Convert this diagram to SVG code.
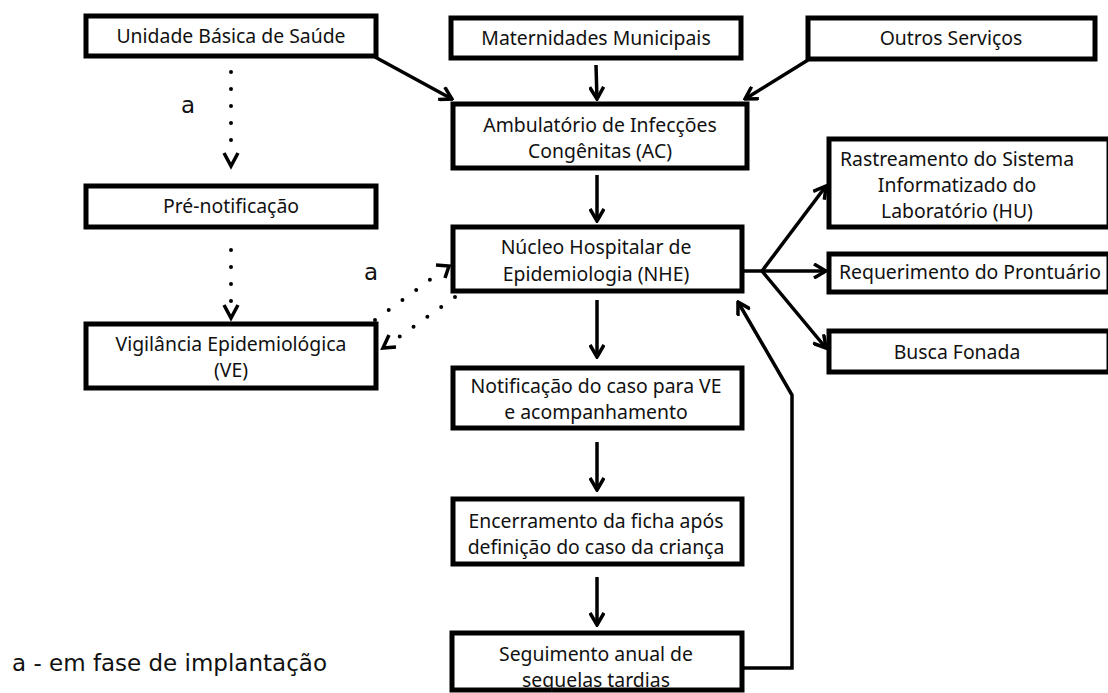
<svg xmlns="http://www.w3.org/2000/svg" width="1108" height="693" viewBox="0 0 1108 693">
<defs>
<style>
.box{fill:#fff;stroke:#000;stroke-width:5}
.t{font-family:"Noto Sans","DejaVu Sans",sans-serif;font-size:19.4px;fill:#111;text-anchor:middle}
.lg{font-family:"DejaVu Sans",sans-serif;font-size:23px;fill:#111}
.ln{fill:none;stroke:#000;stroke-width:3.5}
.dot{fill:none;stroke:#000;stroke-width:4;stroke-linecap:round;stroke-dasharray:0 17}
</style>
<marker id="ah" markerUnits="userSpaceOnUse" viewBox="0 0 16 16" refX="14" refY="8" markerWidth="16" markerHeight="16" orient="auto">
<path d="M2,1 L14,8 L2,15" fill="none" stroke="#000" stroke-width="3.5"/>
</marker>
</defs>
<rect width="1108" height="693" fill="#fff"/>
<g id="connectors">
<line class="ln" x1="375" y1="57" x2="452" y2="99" marker-end="url(#ah)"/>
<line class="ln" x1="596" y1="65" x2="597" y2="99" marker-end="url(#ah)"/>
<line class="ln" x1="808" y1="60" x2="745" y2="99" marker-end="url(#ah)"/>
<line class="ln" x1="597" y1="175" x2="597" y2="221" marker-end="url(#ah)"/>
<line class="ln" x1="742" y1="271" x2="826" y2="271" marker-end="url(#ah)"/>
<line class="ln" x1="762" y1="271" x2="826" y2="186" marker-end="url(#ah)"/>
<line class="ln" x1="762" y1="271" x2="826" y2="348" marker-end="url(#ah)"/>
<line class="ln" x1="597" y1="300" x2="597" y2="357" marker-end="url(#ah)"/>
<line class="ln" x1="597" y1="442" x2="597" y2="490" marker-end="url(#ah)"/>
<line class="ln" x1="597" y1="577" x2="597" y2="625" marker-end="url(#ah)"/>
<polyline class="ln" points="744,668 792,668 792,395 738,302" marker-end="url(#ah)"/>
<line class="dot" x1="231" y1="72" x2="231" y2="155"/>
<path class="ln" d="M224,153 L231,166 L238,153" stroke-width="3"/>
<line class="dot" x1="231" y1="250" x2="231" y2="305"/>
<path class="ln" d="M224,305 L231,318 L238,305" stroke-width="3"/>
<line class="dot" x1="375" y1="320" x2="442" y2="271"/>
<path class="ln" d="M436,265 L449,266 L445,278" stroke-width="3"/>
<line class="dot" x1="455" y1="297" x2="395" y2="340"/>
<path class="ln" d="M389,335 L383,348 L396,347" stroke-width="3"/>
</g>
<g id="n-ubs"><rect class="box" x="86" y="16" width="290" height="40"/><text class="t" x="231" y="43">Unidade Básica de Saúde</text></g>
<g id="n-mat"><rect class="box" x="451" y="18" width="290" height="40"/><text class="t" x="596" y="45">Maternidades Municipais</text></g>
<g id="n-outros"><rect class="box" x="808" y="18" width="287" height="41"/><text class="t" x="951" y="45">Outros Serviços</text></g>
<g id="n-amb"><rect class="box" x="453" y="104" width="294" height="64"/><text class="t" x="600" y="132">Ambulatório de Infecções</text><text class="t" x="600" y="158">Congênitas (AC)</text></g>
<g id="n-rast"><rect class="box" x="829" y="139" width="280" height="88"/><text class="t" x="957" y="166">Rastreamento do Sistema</text><text class="t" x="957" y="192">Informatizado do</text><text class="t" x="957" y="218">Laboratório (HU)</text></g>
<g id="n-req"><rect class="box" x="829" y="254" width="280" height="38"/><text class="t" x="970" y="279">Requerimento do Prontuário</text></g>
<g id="n-busca"><rect class="box" x="829" y="331" width="280" height="41"/><text class="t" x="957" y="359">Busca Fonada</text></g>
<g id="n-pre"><rect class="box" x="86" y="186" width="290" height="41"/><text class="t" x="231" y="213">Pré-notificação</text></g>
<g id="n-ve"><rect class="box" x="86" y="324" width="290" height="64"/><text class="t" x="231" y="351">Vigilância Epidemiológica</text><text class="t" x="231" y="377">(VE)</text></g>
<g id="n-nhe"><rect class="box" x="453" y="227" width="289" height="64"/><text class="t" x="596" y="254">Núcleo Hospitalar de</text><text class="t" x="596" y="281">Epidemiologia (NHE)</text></g>
<g id="n-not"><rect class="box" x="453" y="368" width="289" height="60"/><text class="t" x="596" y="393">Notificação do caso para VE</text><text class="t" x="596" y="419">e acompanhamento</text></g>
<g id="n-enc"><rect class="box" x="453" y="499" width="289" height="65"/><text class="t" x="596" y="528">Encerramento da ficha após</text><text class="t" x="596" y="554">definição do caso da criança</text></g>
<g id="n-seg"><rect class="box" x="452" y="633" width="290" height="57"/><text class="t" x="596" y="661">Seguimento anual de</text><text class="t" x="596" y="687">sequelas tardias</text></g>
<g id="labels">
<text class="lg" x="181" y="113">a</text>
<text class="lg" x="364" y="280">a</text>
<text class="lg" x="12" y="671">a - em fase de implantação</text>
</g>
</svg>
